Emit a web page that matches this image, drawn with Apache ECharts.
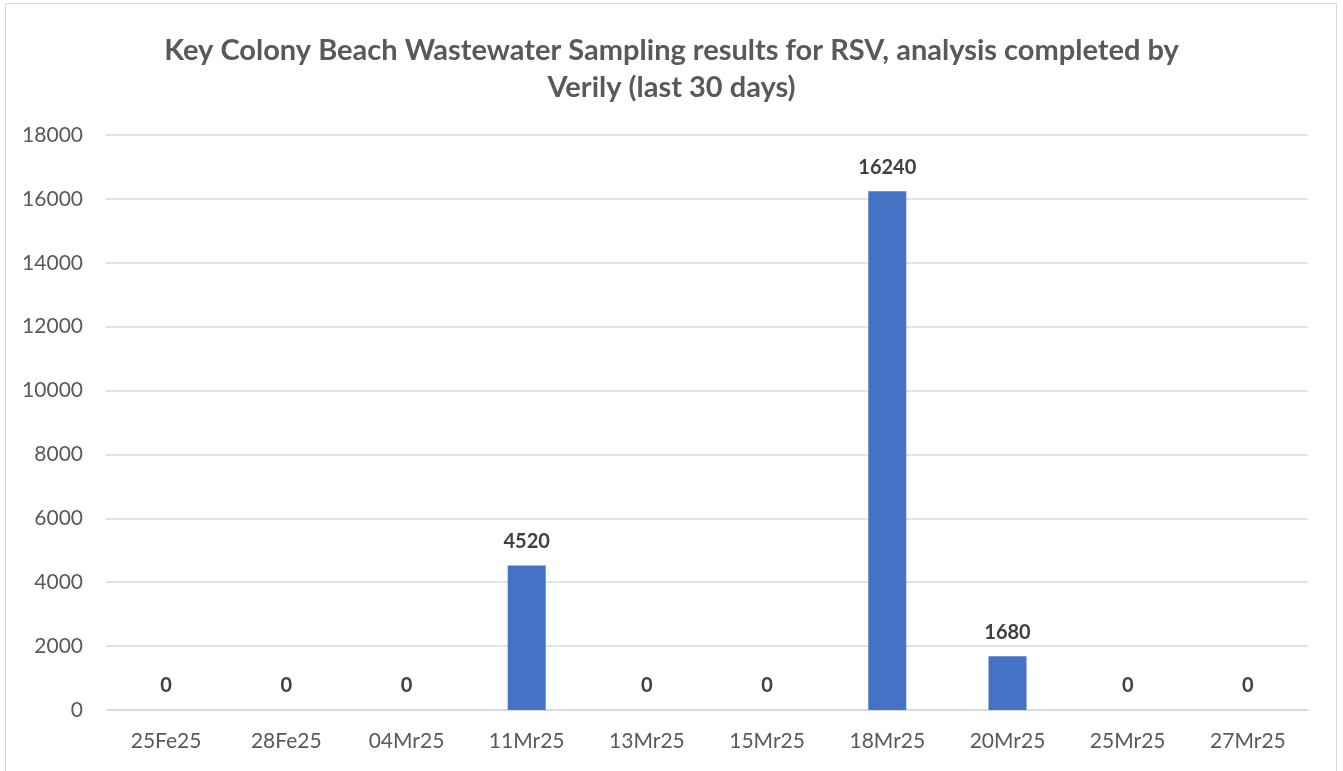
<!DOCTYPE html>
<html>
<head>
<meta charset="utf-8">
<script src="https://cdn.jsdelivr.net/npm/echarts@6/dist/echarts.min.js"></script>
<style>
  html, body { margin: 0; padding: 0; background: #fff; overflow: hidden; }
  #frame { position: absolute; left: 5px; top: 3px; width: 1332px; height: 800px; border: 1px solid #d9d9d9; box-sizing: border-box; }
  #chart { position: absolute; left: 0; top: 0; width: 1343px; height: 771px; }
</style>
</head>
<body>
<div id="frame"></div>
<div id="chart"></div>
<script>
// data
var categories = ['25Fe25', '28Fe25', '04Mr25', '11Mr25', '13Mr25', '15Mr25', '18Mr25', '20Mr25', '25Mr25', '27Mr25'];
var rsvValues = [0, 0, 0, 4520, 0, 0, 16240, 1680, 0, 0];
var yTicks = [0, 2000, 4000, 6000, 8000, 10000, 12000, 14000, 16000, 18000];

var fontFam = 'Lato, "Open Sans", sans-serif';

var myChart = echarts.init(document.getElementById('chart'));
var option = {
    animation: false,
    title: {
        text: 'Key Colony Beach Wastewater Sampling results for RSV, analysis completed by\nVerily (last 30 days)',
        left: 'center',
        top: 27,
        textStyle: {
            fontFamily: fontFam,
            fontSize: 29,
            fontWeight: 'bold',
            color: '#595959',
            lineHeight: 37
        }
    },
    grid: {
        left: 106,
        right: 35,
        top: 135,
        bottom: 61,
        containLabel: false
    },
    xAxis: {
        type: 'category',
        data: categories,
        axisLine: { show: true, lineStyle: { color: '#d9d9d9', width: 1.5 } },
        axisTick: { show: false },
        axisLabel: {
            margin: 21,
            fontFamily: fontFam,
            fontSize: 21,
            color: '#595959'
        }
    },
    yAxis: {
        type: 'value',
        min: yTicks[0],
        max: yTicks[yTicks.length - 1],
        interval: 2000,
        axisLine: { show: false },
        axisTick: { show: false },
        axisLabel: {
            margin: 23,
            fontFamily: fontFam,
            fontSize: 21,
            color: '#595959',
            formatter: function (v) { return String(v); }
        },
        splitLine: { lineStyle: { color: '#d9d9d9', width: 1.5 } }
    },
    series: [
        {
            name: 'RSV',
            type: 'bar',
            data: rsvValues,
            barWidth: 38,
            itemStyle: { color: '#4472c4' },
            label: {
                show: true,
                position: 'top',
                distance: 14,
                fontFamily: fontFam,
                fontSize: 20,
                fontWeight: 'bold',
                color: '#404040'
            }
        }
    ]
};
myChart.setOption(option);
</script>
</body>
</html>
